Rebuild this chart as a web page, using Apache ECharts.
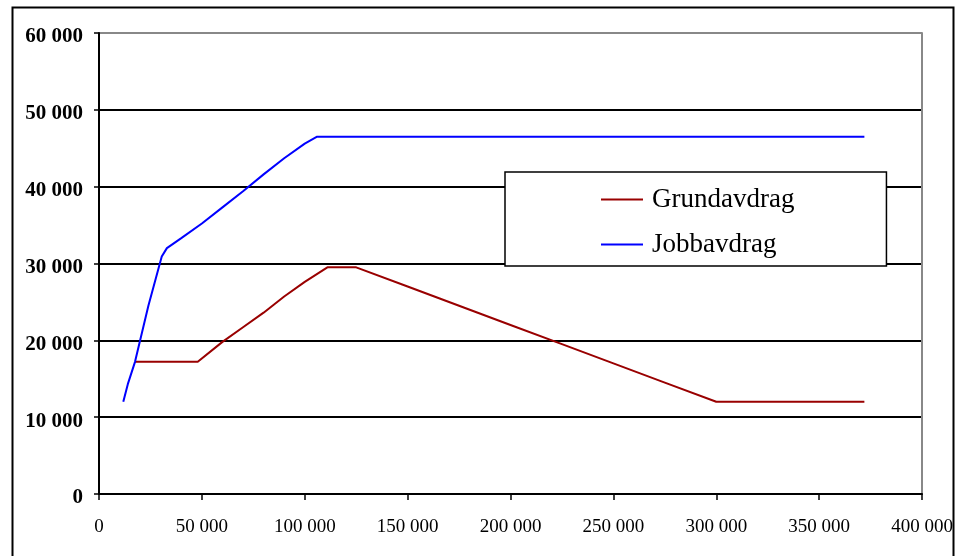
<!DOCTYPE html>
<html>
<head>
<meta charset="utf-8">
<script src="https://cdn.jsdelivr.net/npm/echarts@6/dist/echarts.min.js"></script>
<style>html,body{margin:0;padding:0;background:#fff}#c{width:957px;height:556px}</style>
</head>
<body>
<div id="c"></div>
<script>
var seriesNames = ['Grundavdrag', 'Jobbavdrag'];
var grundavdrag = [[17500,17200],[48000,17200],[60000,19800],[70000,21700],[80000,23600],[90000,25700],[100000,27600],[111000,29500],[125000,29500],[150000,27000],[175000,24500],[200000,22000],[225000,19500],[250000,17000],[275000,14500],[300000,12000],[372000,12000]];
var jobbavdrag = [[11800,12000],[14000,14300],[17500,17200],[24000,24500],[30500,30900],[33000,32000],[40000,33300],[50000,35200],[60000,37300],[70000,39400],[80000,41600],[90000,43700],[100000,45600],[106000,46500],[372000,46500]];
var yTicks = [0, 10000, 20000, 30000, 40000, 50000, 60000];
var xTicks = [0, 50000, 100000, 150000, 200000, 250000, 300000, 350000, 400000];

function fmt(v){ return v === 0 ? '0' : String(v).replace(/\B(?=(\d{3})+(?!\d))/g, ' '); }

var chart = echarts.init(document.getElementById('c'));
chart.setOption({
  animation: false,
  backgroundColor: '#fff',
  graphic: [{
    type: 'rect', left: 10, top: 5, shape: {width: 941, height: 570},
    style: {fill: 'none', stroke: '#000', lineWidth: 2}, silent: true
  }],
  grid: {left: 99, right: 35, top: 33, bottom: 62},
  legend: {
    orient: 'vertical', left: 505, top: 172,
    backgroundColor: '#fff', borderColor: '#000', borderWidth: 1.5,
    padding: [14, 92, 8, 96], itemGap: 18,
    icon: 'rect', itemWidth: 42, itemHeight: 2,
    textStyle: {fontFamily: 'Liberation Serif', fontSize: 27, color: '#000', padding: [0,0,0,4]},
    data: seriesNames
  },
  xAxis: {
    type: 'value', min: xTicks[0], max: xTicks[xTicks.length-1], interval: 50000,
    axisLine: {show: true, lineStyle: {color: '#000', width: 2}},
    axisTick: {show: true, length: 6, lineStyle: {color: '#000', width: 1.5}},
    splitLine: {show: false},
    axisLabel: {formatter: fmt, fontFamily: 'Liberation Serif', fontSize: 19, color: '#000', margin: 24, showMaxLabel: true}
  },
  yAxis: [{
    type: 'value', min: yTicks[0], max: yTicks[yTicks.length-1], interval: 10000,
    axisLine: {show: true, lineStyle: {color: '#000', width: 2}},
    axisTick: {show: true, length: 5, lineStyle: {color: '#000', width: 1.5}},
    splitLine: {show: true, lineStyle: {color: ['#000','#000','#000','#000','#000','#000','#888'], width: 2}},
    axisLabel: {formatter: fmt, fontFamily: 'Liberation Serif', fontWeight: 'bold', fontSize: 21, color: '#000', margin: 16, verticalAlign: 'top', lineHeight: 8}
  }, {
    type: 'value', position: 'right', min: 0, max: 60000, interval: 10000,
    axisLine: {show: true, lineStyle: {color: '#888', width: 2}},
    axisTick: {show: false}, axisLabel: {show: false}, splitLine: {show: false}
  }],
  series: [{
    name: seriesNames[0], type: 'line', data: grundavdrag, showSymbol: false,
    lineStyle: {color: '#990000', width: 2}, itemStyle: {color: '#990000'}
  }, {
    name: seriesNames[1], type: 'line', data: jobbavdrag, showSymbol: false,
    lineStyle: {color: '#0000ff', width: 2}, itemStyle: {color: '#0000ff'}
  }]
});
</script>
</body>
</html>
